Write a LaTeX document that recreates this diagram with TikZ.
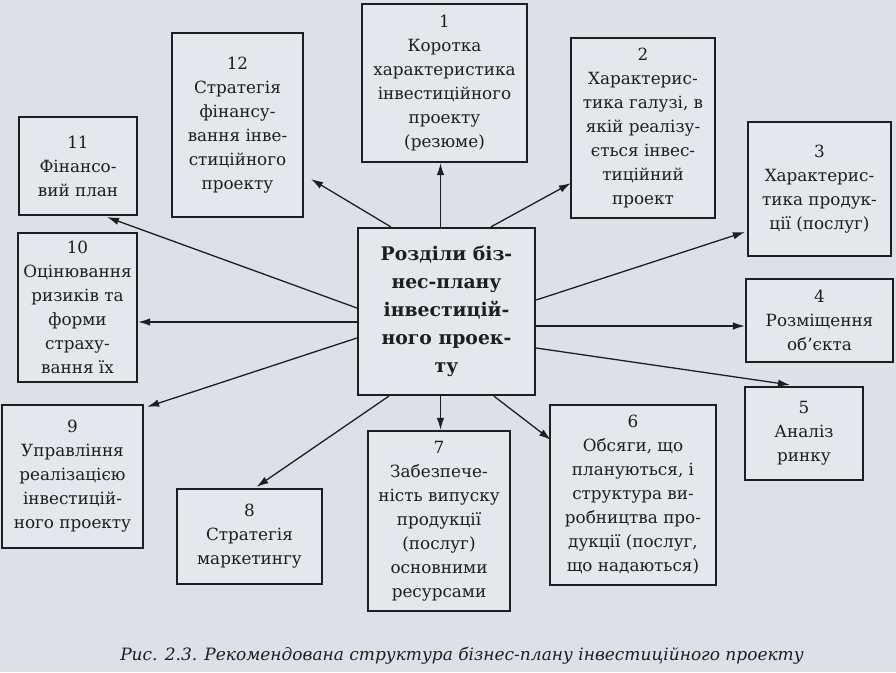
\documentclass[tikz,border=0pt]{standalone}
\usepackage{fontspec}
\setmainfont{DejaVu Serif}
\usetikzlibrary{arrows.meta,calc}
\definecolor{paper}{RGB}{221,225,231}
\definecolor{boxfill}{RGB}{228,231,236}
\definecolor{ink}{RGB}{30,30,30}
\tikzset{
  box/.style={draw=ink, line width=2.2pt, fill=boxfill, text=ink, align=center, inner sep=0pt,
    font=\fontsize{16.8}{24}\selectfont},
  mainbox/.style={box, font=\bfseries\fontsize{18.8}{28}\selectfont},
  arr/.style={draw=ink, line width=1.3pt, -{Latex[length=12pt,width=7.5pt]}},
}
\begin{document}
\begin{tikzpicture}[x=1pt,y=-1pt]
\fill[paper] (0,0) rectangle (896,672);
\useasboundingbox (0,0) rectangle (896,672);

\node[mainbox, minimum width=177, minimum height=167] (c) at (446.5,311.5)
  {Розділи біз-\\нес-плану\\інвестицій-\\ного проек-\\ту};

\node[box, minimum width=165, minimum height=158] (b1) at (444.5,83)
  {1\\Коротка\\характеристика\\інвестиційного\\проекту\\(резюме)};
\node[box, minimum width=144, minimum height=180] (b2) at (643,128)
  {2\\Характерис-\\тика галузі, в\\якій реалізу-\\ється інвес-\\тиційний\\проект};
\node[box, minimum width=143, minimum height=134] (b3) at (819.5,189)
  {3\\Характерис-\\тика продук-\\ції (послуг)};
\node[box, minimum width=147, minimum height=83] (b4) at (819.5,320.5)
  {4\\Розміщення\\об'єкта};
\node[box, minimum width=118, minimum height=93] (b5) at (804,433.5)
  {5\\Аналіз\\ринку};
\node[box, minimum width=166, minimum height=180] (b6) at (633,495)
  {6\\Обсяги, що\\плануються, і\\структура ви-\\робництва про-\\дукції (послуг,\\що надаються)};
\node[box, minimum width=142, minimum height=180] (b7) at (439,521)
  {7\\Забезпече-\\ність випуску\\продукції\\(послуг)\\основними\\ресурсами};
\node[box, minimum width=145, minimum height=95] (b8) at (249.5,536.5)
  {8\\Стратегія\\маркетингу};
\node[box, minimum width=141, minimum height=143] (b9) at (72.5,476.5)
  {9\\Управління\\реалізацією\\інвестицій-\\ного проекту};
\node[box, minimum width=119, minimum height=149] (b10) at (77.5,307.5)
  {10\\Оцінювання\\ризиків та\\форми\\страху-\\вання їх};
\node[box, minimum width=118, minimum height=98] (b11) at (78,166)
  {11\\Фінансо-\\вий план};
\node[box, minimum width=131, minimum height=184] (b12) at (237.5,125)
  {12\\Стратегія\\фінансу-\\вання інве-\\стиційного\\проекту};

% start points on the central box
\coordinate (s1) at ($(c.north)+(-6,0)$);
\coordinate (s12) at ($(c.north west)+(34,0)$);
\coordinate (s2) at ($(c.north west)+(134,0)$);
\coordinate (s11) at ($(c.west)+(0,-3.5)$);
\coordinate (s10) at ($(c.west)+(0,10.5)$);
\coordinate (s9) at ($(c.west)+(0,26.5)$);
\coordinate (s8) at ($(c.south west)+(32,0)$);
\coordinate (s7) at ($(c.south)+(-6,0)$);
\coordinate (s6) at ($(c.south west)+(137,0)$);
\coordinate (s3) at ($(c.east)+(0,-11.5)$);
\coordinate (s4) at ($(c.east)+(0,14.5)$);
\coordinate (s5) at ($(c.east)+(0,36.5)$);

\draw[arr] (s1) -- (s1 |- b1.south);
\draw[arr] (s12) -- ($(b12.south east)+(7,-39)$);
\draw[arr] (s2) -- ($(b2.south west)+(1,-36)$);
\draw[arr] (s11) -- ($(b11.south)+(29,1)$);
\draw[arr] (s10) -- (s10 -| b10.east);
\draw[arr] (s9) -- ($(b9.north east)+(3,3)$);
\draw[arr] (s8) -- ($(b8.north)+(7,-1)$);
\draw[arr] (s7) -- (s7 |- b7.north);
\draw[arr] (s6) -- ($(b6.north west)+(2,36)$);
\draw[arr] (s3) -- ($(b3.west)+(-2,43)$);
\draw[arr] (s4) -- (s4 -| b4.west);
\draw[arr] (s5) -- ($(b5.north)+(-14,-1)$);

\node[text=ink, font=\itshape\fontsize{17}{20}\selectfont, anchor=base] (cap) at (462,660)
  {Рис. 2.3. Рекомендована структура бізнес-плану інвестиційного проекту};
\end{tikzpicture}
\end{document}
